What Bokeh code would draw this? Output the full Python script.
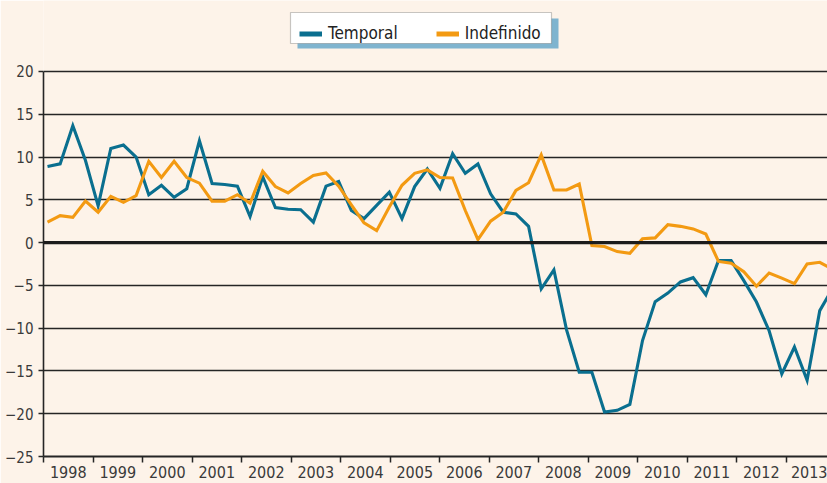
from bokeh.plotting import figure
from bokeh.models import Range1d, FixedTicker, Span, Legend, LegendItem, BoxAnnotation
from bokeh.embed import file_html
from bokeh.resources import INLINE

# ---------------- data (quarterly, year-on-year % change, 1998Q1 ...) ----------------
years = [1998, 1999, 2000, 2001, 2002, 2003, 2004, 2005,
         2006, 2007, 2008, 2009, 2010, 2011, 2012, 2013]
year_labels = [str(y) for y in years]

temporal = [8.9, 9.2, 13.65, 9.6,
            4.3, 11.0, 11.4, 10.0,
            5.6, 6.7, 5.3, 6.3,
            11.9, 6.9, 6.8, 6.6,
            3.05, 7.7, 4.1, 3.9,
            3.85, 2.4, 6.6, 7.15,
            3.75, 2.8, 4.35, 5.9,
            2.8, 6.55, 8.6, 6.35,
            10.4, 8.1, 9.2, 5.7,
            3.55, 3.35, 1.9, -5.4,
            -3.2, -10.2, -15.15, -15.15,
            -19.8, -19.6, -18.9, -11.45,
            -6.9, -5.9, -4.6, -4.1,
            -6.1, -2.1, -2.1, -4.45,
            -6.95, -10.3, -15.35, -12.2,
            -16.1, -7.95, -5.4]

indefinido = [2.4, 3.15, 2.95, 4.85,
              3.55, 5.4, 4.7, 5.5,
              9.5, 7.6, 9.5, 7.6,
              6.95, 4.85, 4.85, 5.6,
              4.6, 8.35, 6.55, 5.8,
              6.9, 7.85, 8.15, 6.6,
              4.4, 2.3, 1.4, 4.15,
              6.7, 8.1, 8.5, 7.6,
              7.55, 3.75, 0.35, 2.5,
              3.55, 6.1, 7.0, 10.25,
              6.15, 6.15, 6.85, -0.35,
              -0.45, -1.05, -1.25, 0.45,
              0.55, 2.1, 1.9, 1.6,
              1.0, -2.2, -2.4, -3.4,
              -5.1, -3.55, -4.15, -4.8,
              -2.5, -2.3, -3.1]

y_ticks = [-25, -20, -15, -10, -5, 0, 5, 10, 15, 20]

# ---------------- geometry / style ----------------
BG = "#FDF3E9"
BLUE = "#0A6F8F"
ORANGE = "#F39A12"
INK = "#252525"
FONT = "'Liberation Sans Narrow', 'Arial Narrow', 'DejaVu Sans Condensed', sans-serif"

W, H = 827, 483
LEFT, BOTTOM = 43, 27
FW, FH = W - LEFT, H - BOTTOM
PT_PX = 12.66        # horizontal pixels between consecutive quarters
YEAR_PX = 49.5       # pixels between year tick marks
FIRST_GAP = 4.0      # pixels from the axis to the first point
UNIT_PX = 8.556      # pixels per percentage point

x_start = -FIRST_GAP / PT_PX
x_end = x_start + FW / PT_PX
y0 = y_ticks[0]
y1 = y0 + FH / UNIT_PX

x = list(range(len(temporal)))
bounds = [x_start + k * YEAR_PX / PT_PX for k in range(len(years) + 1)]
centers = [b + 0.5 * YEAR_PX / PT_PX for b in bounds[:-1]]

p = figure(width=W, height=H, output_backend="svg", toolbar_location=None,
           x_range=Range1d(x_start, x_end), y_range=Range1d(y0, y1),
           min_border_left=LEFT, min_border_right=0, min_border_top=0,
           min_border_bottom=BOTTOM)
p.background_fill_color = BG
p.border_fill_color = BG
p.outline_line_color = None

# grid
p.xgrid.visible = False
p.ygrid.ticker = FixedTicker(ticks=y_ticks)
p.ygrid.grid_line_color = INK
p.ygrid.grid_line_width = 1.6

# y axis
ya = p.yaxis[0]
ya.ticker = FixedTicker(ticks=y_ticks)
ya.bounds = (y_ticks[0], y_ticks[-1])
ya.axis_line_color = INK
ya.axis_line_width = 1.6
ya.major_tick_out = 5
ya.major_tick_in = 0
ya.major_tick_line_color = INK
ya.major_tick_line_width = 1.5
ya.minor_tick_line_color = None
ya.major_label_text_font = FONT
ya.major_label_text_font_size = "15px"
ya.major_label_text_color = "#3a3a3a"
ya.major_label_standoff = 5

# x axis: labels centred in each year, tick marks at year boundaries
xa = p.xaxis[0]
xa.ticker = FixedTicker(ticks=centers, minor_ticks=bounds)
xa.major_label_overrides = {c: lab for c, lab in zip(centers, year_labels)}
xa.axis_line_color = INK
xa.axis_line_width = 2
xa.major_tick_out = 0
xa.major_tick_in = 0
xa.minor_tick_out = 6
xa.minor_tick_in = 0
xa.minor_tick_line_color = INK
xa.minor_tick_line_width = 1.5
xa.major_label_text_font = FONT
xa.major_label_text_font_size = "16px"
xa.major_label_text_line_height = 1.0
xa.major_label_text_color = "#3a3a3a"
xa.major_label_standoff = 3

# zero line
p.add_layout(Span(location=0, dimension="width", line_color="#1c1c1c", line_width=3.2))

# series
r_t = p.line(x, temporal, line_color=BLUE, line_width=3.1, line_join="miter")
r_i = p.line(x, indefinido, line_color=ORANGE, line_width=3.1, line_join="miter")

# legend glyph proxies (thicker strokes; a single point draws nothing in the plot)
g_t = p.line(x[:1], temporal[:1], line_color=BLUE, line_width=5)
g_i = p.line(x[:1], indefinido[:1], line_color=ORANGE, line_width=5)

# legend box + shadow (page px -> data units)
def dx(px):
    return x_start + (px - LEFT) / PT_PX
def dy(py):
    return y1 - py / UNIT_PX

p.add_layout(BoxAnnotation(left=dx(297), right=dx(558), top=dy(18), bottom=dy(48),
                           fill_color="#7FB4CF", fill_alpha=1, line_color=None,
                           level="underlay"))
p.add_layout(BoxAnnotation(left=dx(290), right=dx(551), top=dy(12), bottom=dy(43),
                           fill_color="white", fill_alpha=1,
                           line_color="#4a4a4a", line_width=1.2,
                           level="underlay"))

legend = Legend(items=[LegendItem(label="Temporal", renderers=[g_t]),
                       LegendItem(label="Indefinido", renderers=[g_i])],
                orientation="horizontal",
                location=(299 - LEFT, FH - 43),
                border_line_color=None,
                background_fill_alpha=0,
                label_text_font=FONT, label_text_font_size="17px",
                label_text_color="#222222",
                glyph_width=23, glyph_height=19, label_height=19,
                label_standoff=6, spacing=38, padding=6, margin=0)
p.add_layout(legend)

open("out.html", "w").write(file_html(p, INLINE))
